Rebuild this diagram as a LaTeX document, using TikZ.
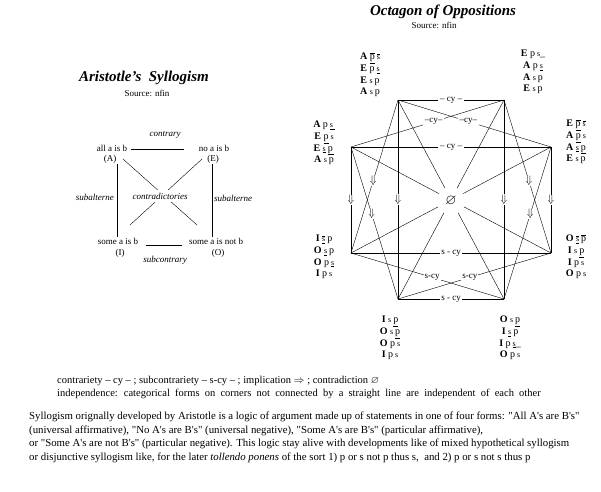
\documentclass[tikz,border=0pt]{standalone}
\usepackage{amsmath,amssymb}
\usepackage{fontspec}
\setmainfont{Liberation Serif}
\newfontfamily\plainfont{Liberation Serif}
\newcommand{\sv}{{\footnotesize s}}
\newcommand{\unl}[1]{\underline{#1}}
\newcommand{\ovl}[1]{$\overline{\hbox{#1}}$}
\newcommand{\frm}[3]{\textbf{#1}\hspace{2.5pt}#2\hspace{2pt}#3}
\newcommand{\dq}{{\plainfont"}}
\newcommand{\ap}{{\plainfont'}}
\tikzset{
  word/.style={font=\fontsize{9}{10}\selectfont, inner sep=1pt},
  rel/.style={font=\fontsize{9}{10}\selectfont\itshape, inner sep=1pt},
  forms/.style={align=center, font=\fontsize{10}{11.7}\selectfont, inner sep=0pt},
  cylab/.style={fill=white, font=\fontsize{9}{10}\selectfont, inner xsep=2pt, inner ysep=0.5pt},
  imp/.style={fill=white, inner sep=0.3pt, font=\fontsize{11}{12}\selectfont},
  title/.style={font=\fontsize{15}{17}\selectfont\bfseries\itshape},
}

\begin{document}
\begin{tikzpicture}[x=1pt,y=-1pt]
  \useasboundingbox (0,0) rectangle (601,491);
  % Titles
  \node[title] (sqtitle) at (144,78) {Aristotle's\ \ Syllogism};
  \node[word] (sqsrc) at (147,93) {Source: nfin};
  \node[title] (octtitle) at (443,12) {Octagon of Oppositions};
  \node[word] (octsrc) at (434,25) {Source: nfin};
  % Square of oppositions
  \node[word] (a1) at (112,148) {all a is b};
  \node[word] (a2) at (110,159) {(A)};
  \node[word] (e1) at (214,148) {no a is b};
  \node[word] (e2) at (213,159) {(E)};
  \node[word] (i1) at (118,241) {some a is b};
  \node[word] (i2) at (120,253) {(I)};
  \node[word] (o1) at (216,241) {some a is not b};
  \node[word] (o2) at (218,253) {(O)};
  \draw ([xshift=3pt,yshift=-1pt]a1.east) -- ([xshift=-14pt,yshift=-1pt]e1.west);
  \node[rel] (contr) at (165,135) {contrary};
  \draw ([xshift=7pt,yshift=-4pt]i1.east) -- ([xshift=-6pt,yshift=-4pt]o1.west);
  \node[rel] (subc) at (165,260) {subcontrary};
  \draw ([xshift=7pt]a2.south) -- ([xshift=7pt]a2.south |- i1.north);
  \draw ([xshift=-1pt]e2.south) -- ([xshift=-1pt]e2.south |- o1.north);
  \node[rel, anchor=east] (subl) at (115,197) {subalterne};
  \node[rel, anchor=west] (subr) at (213,198) {subalterne};
  \coordinate (dA) at (123,159);
  \coordinate (dO) at (197,225);
  \coordinate (dE) at (202,159);
  \coordinate (dI) at (130,225);
  \draw (dA) -- (dO);
  \draw (dE) -- (dI);
  \node[rel, fill=white, inner ysep=3pt] (contra) at (160,196) {contradictories};
  % Octagon corners
  \coordinate (TL) at (398,100);
  \coordinate (TR) at (504,100);
  \coordinate (LT) at (351,147);
  \coordinate (RT) at (551,147);
  \coordinate (LB) at (351,253);
  \coordinate (RB) at (551,253);
  \coordinate (BL) at (398,299);
  \coordinate (BR) at (504,299);
  % Contradiction
  \draw (TL) -- (BR);
  \draw (TR) -- (BL);
  \draw (LT) -- (RB);
  \draw (RT) -- (LB);
  \node[circle, fill=white, minimum size=28pt, inner sep=0pt, font=\Large] (ctr) at (451,201) {$\varnothing$};
  % Contrariety
  \draw (TL) -- node[cylab] {– cy –} (TR);
  \draw (LT) -- node[cylab] {– cy –} (RT);
  \draw (LT) -- node[cylab, pos=0.54] {–cy–} (TR);
  \draw (RT) -- node[cylab, pos=0.54] {–cy–} (TL);
  % Subcontrariety
  \draw (LB) -- node[cylab, inner xsep=1pt] {s - cy} (RB);
  \draw (BL) -- node[cylab, inner xsep=1pt] {s - cy} (BR);
  \draw (LB) -- node[cylab, pos=0.53, inner xsep=1pt] {s-cy} (BR);
  \draw (RB) -- node[cylab, pos=0.53, inner xsep=1pt] {s-cy} (BL);
  % Implication
  \draw (TL) -- node[imp] {$\Downarrow$} (BL);
  \draw (TR) -- node[imp] {$\Downarrow$} (BR);
  \draw (LT) -- node[imp] {$\Downarrow$} (LB);
  \draw (RT) -- node[imp] {$\Downarrow$} (RB);
  \draw (TL) -- node[imp, pos=0.53] {$\Downarrow$} (LB);
  \draw (TR) -- node[imp, pos=0.53] {$\Downarrow$} (RB);
  \draw (LT) -- node[imp, pos=0.44] {$\Downarrow$} (BL);
  \draw (RT) -- node[imp, pos=0.44] {$\Downarrow$} (BR);
  % Categorical forms at the corners
  \node[forms] (fTL) at (370,75) {\frm{A}{\ovl{\unl{p}}}{\ovl{\sv}}\\ \frm{E}{p}{\unl{\sv}}\\ \frm{E}{\sv}{p}\\ \frm{A}{\sv}{p}};
  \node[forms] (fTR) at (533,72) {\frm{E}{p}{\sv\_}\\ \frm{A}{p}{\unl{\sv}}\\ \frm{A}{\sv}{p}\\ \frm{E}{\sv}{p}};
  \node[forms] (fLT) at (324,143) {\frm{A}{p}{\unl{\sv\,}}\\ \frm{E}{\unl{p}}{\sv}\\ \frm{E}{\unl{\sv}}{\unl{p\,}}\\ \frm{A}{\sv}{p}};
  \node[forms] (fRT) at (576,142) {\frm{E}{\ovl{\unl{p}}}{\ovl{\sv}}\\ \frm{A}{\unl{p}}{\sv}\\ \frm{A}{\unl{\sv}}{\unl{p}}\\ \frm{E}{\sv}{p}};
  \node[forms] (fLB) at (324,257) {\frm{I}{\ovl{\unl{\sv}}}{p}\\ \frm{O}{\unl{\sv}}{p}\\ \frm{O}{p}{\unl{\sv}}\\ \frm{I}{p}{\sv}};
  \node[forms] (fRB) at (576,257) {\frm{O}{\ovl{\unl{\sv}}}{\ovl{p}}\\ \frm{I}{\sv}{\unl{p}}\\ \frm{I}{p}{\sv}\\ \frm{O}{p}{\sv}};
  \node[forms] (fBL) at (390,338) {\frm{I}{\sv}{\unl{p}}\\ \frm{O}{\sv}{\unl{p}}\\ \frm{O}{p}{\sv}\\ \frm{I}{p}{\sv}};
  \node[forms] (fBR) at (510,338) {\frm{O}{\sv}{\unl{p}}\\ \frm{I}{\unl{\sv}}{p}\\ \frm{I}{p}{\unl{\sv}\_}\\ \frm{O}{p}{\sv}};
  % Legend
  \node[anchor=west, font=\fontsize{10.5}{13}\selectfont, inner sep=0pt] (leg1) at (57,381)
    {contrariety – cy – ; subcontrariety – s-cy – ; implication $\Rightarrow$ ; contradiction $\varnothing$};
  \node[anchor=west, font=\fontsize{10.5}{13}\selectfont, inner sep=0pt] (leg2) at (57,394)
    {\spaceskip=5.2pt\relax independence: categorical forms on corners not connected by a straight line are independent of each other};
  % Text
  \node[anchor=north west, align=left, font=\fontsize{10.8}{13.5}\selectfont, inner sep=0pt] (para) at (29,412)
    {Syllogism orignally developed by Aristotle is a logic of argument made up of statements in one of four forms: \dq All A\ap s are B\ap s\dq\\
     (universal affirmative), \dq No A\ap s are B\ap s\dq\ (universal negative), \dq Some A\ap s are B\ap s\dq\ (particular affirmative),\\
     or \dq Some A\ap s are not B\ap s\dq\ (particular negative). This logic stay alive with developments like of mixed hypothetical syllogism\\
     or disjunctive syllogism like, for the later \textit{tollendo ponens} of the sort 1) p or s not p thus s,\ \ and 2) p or s not s thus p};
\end{tikzpicture}
\end{document}
